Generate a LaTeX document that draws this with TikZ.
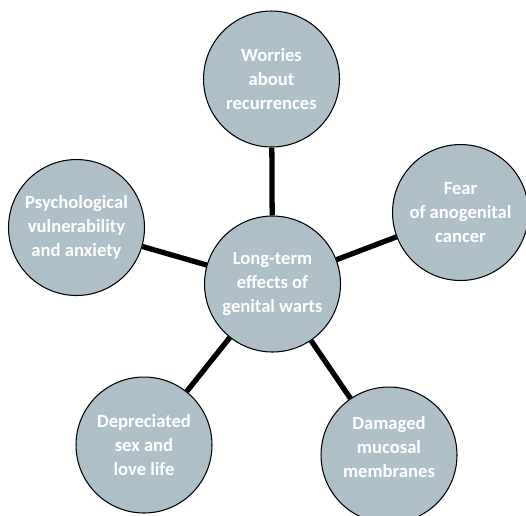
\documentclass[tikz,border=0pt]{standalone}
\usepackage{fontspec}
\setmainfont{Carlito}
\usepackage{tikz}
\definecolor{bubblefill}{RGB}{174,191,200}

\begin{document}
\begin{tikzpicture}[x=0.02cm,y=-0.02cm,
    bubble/.style={circle,draw=black,line width=0.6pt,fill=bubblefill,
        minimum size=2.72cm,inner sep=0pt,align=center,text=white,
        font=\fontsize{10.6}{13.6}\selectfont\bfseries},
    spoke/.style={line width=3pt,black}]
    \useasboundingbox (0,0) rectangle (526,515);

    % Centre
    \node[bubble] (hub) at (272.5,284) {Long-term\\effects of\\genital warts};

    % Outer bubbles
    \node[bubble] (worries) at (271.5,79) {Worries\\about\\recurrences};
    \node[bubble] (cancer) at (460.5,212.5) {Fear\\of anogenital\\cancer};
    \node[bubble,text depth=9pt] (mucosa) at (389,455) {Damaged\\mucosal\\membranes};
    \node[bubble] (sexlife) at (144,445) {Depreciated\\sex and\\love life};
    \node[bubble] (psych) at (76.5,227.5) {Psychological\\vulnerability\\and anxiety};

    % Spokes
    \draw[spoke] (hub) -- (worries);
    \draw[spoke] (hub) -- (cancer);
    \draw[spoke] (hub) -- (mucosa);
    \draw[spoke] (hub) -- (sexlife);
    \draw[spoke] (hub) -- (psych);
\end{tikzpicture}
\end{document}
